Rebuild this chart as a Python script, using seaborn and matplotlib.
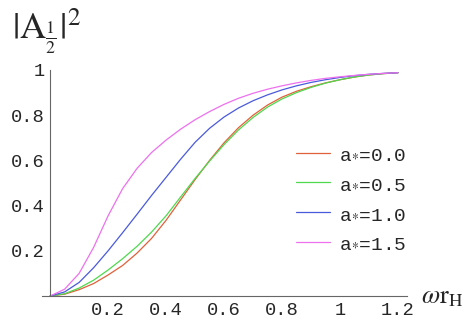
import matplotlib
matplotlib.use("Agg")
import matplotlib.pyplot as plt
import seaborn as sns
import pandas as pd
from matplotlib.ticker import MultipleLocator, FixedLocator

# values
omega_rh = [0.0, 0.05, 0.1, 0.15, 0.2, 0.25, 0.3, 0.35, 0.4, 0.45, 0.5, 0.55,
            0.6, 0.65, 0.7, 0.75, 0.8, 0.85, 0.9, 0.95, 1.0, 1.05, 1.1, 1.15, 1.2]

a00 = [0.0, 0.008, 0.028, 0.055, 0.093, 0.135, 0.19, 0.255, 0.335, 0.425, 0.515, 0.6,
       0.678, 0.745, 0.8, 0.845, 0.88, 0.906, 0.926, 0.943, 0.957, 0.969, 0.978, 0.984, 0.988]
a05 = [0.0, 0.01, 0.035, 0.07, 0.115, 0.165, 0.22, 0.283, 0.355, 0.438, 0.52, 0.597,
       0.67, 0.735, 0.79, 0.836, 0.872, 0.9, 0.923, 0.942, 0.957, 0.969, 0.978, 0.984, 0.988]
a10 = [0.0, 0.018, 0.06, 0.125, 0.2, 0.28, 0.362, 0.445, 0.525, 0.605, 0.68, 0.742,
       0.792, 0.832, 0.864, 0.89, 0.912, 0.93, 0.945, 0.957, 0.967, 0.975, 0.981, 0.985, 0.988]
a15 = [0.0, 0.03, 0.1, 0.215, 0.355, 0.475, 0.565, 0.635, 0.69, 0.738, 0.78, 0.816,
       0.848, 0.875, 0.897, 0.915, 0.93, 0.943, 0.954, 0.963, 0.97, 0.976, 0.981, 0.985, 0.988]

labels = [r"a$_{*}$=0.0", r"a$_{*}$=0.5", r"a$_{*}$=1.0", r"a$_{*}$=1.5"]
colors = ["#e0603a", "#4ed84e", "#4a5adc", "#ee70ee"]

x_ticks = [0.2, 0.4, 0.6, 0.8, 1.0, 1.2]
x_ticklabels = ["0.2", "0.4", "0.6", "0.8", "1", "1.2"]
y_ticks = [0.2, 0.4, 0.6, 0.8, 1.0]
y_ticklabels = ["0.2", "0.4", "0.6", "0.8", "1"]

frames = []
for lab, vals in zip(labels, [a00, a05, a10, a15]):
    frames.append(pd.DataFrame({"w": omega_rh, "A2": vals, "spin": lab}))
df = pd.concat(frames, ignore_index=True)

sns.set_style("white")
plt.rcParams["mathtext.fontset"] = "stix"
plt.rcParams["font.family"] = ["Liberation Mono", "DejaVu Sans Mono"]

fig = plt.figure(figsize=(4.73, 3.21), dpi=100)
ax = fig.add_axes([42 / 473, 25 / 321, 365 / 473, 226 / 321])

sns.lineplot(data=df, x="w", y="A2", hue="spin", palette=colors, linewidth=0.9,
             ax=ax, legend=True)

ax.set_xlim(-0.028, 1.231)
ax.set_ylim(0, 1.0)
for s in ["top", "right"]:
    ax.spines[s].set_visible(False)
ax.spines["left"].set_position(("data", 0))
ax.spines["bottom"].set_position(("data", 0))
for s in ["left", "bottom"]:
    ax.spines[s].set_color("#666666")
    ax.spines[s].set_linewidth(0.8)

ax.xaxis.set_major_locator(FixedLocator(x_ticks))
ax.set_xticklabels(x_ticklabels)
ax.yaxis.set_major_locator(FixedLocator(y_ticks))
ax.set_yticklabels(y_ticklabels)
ax.xaxis.set_minor_locator(MultipleLocator(0.05))
ax.yaxis.set_minor_locator(MultipleLocator(0.05))
ax.tick_params(which="major", direction="in", length=4, width=0.6, color="#666666",
               labelsize=13.5, pad=4)
ax.tick_params(which="minor", direction="in", length=2.2, width=0.5, color="#888888")
ax.tick_params(axis="y", which="major", pad=4)
ax.set_xlabel("")
ax.set_ylabel("")

leg = ax.legend(loc="upper left", bbox_to_anchor=(0.695, 0.665), frameon=False,
                prop={"family": ["Liberation Mono"], "size": 14},
                handlelength=1.75, handletextpad=0.5, labelspacing=0.62,
                borderpad=0, borderaxespad=0)
for h in leg.get_lines():
    h.set_linewidth(0.9)

fig.text(12 / 473, 1 - 6 / 321, r"$|\mathrm{A}_{\frac{1}{2}}|^2$", fontsize=26,
         va="top", ha="left")
fig.text(421 / 473, 1 - 303 / 321, r"$\omega\mathrm{r}_{\mathrm{H}}$", fontsize=19,
         va="baseline", ha="left")

fig.savefig("out.png", dpi=100)
